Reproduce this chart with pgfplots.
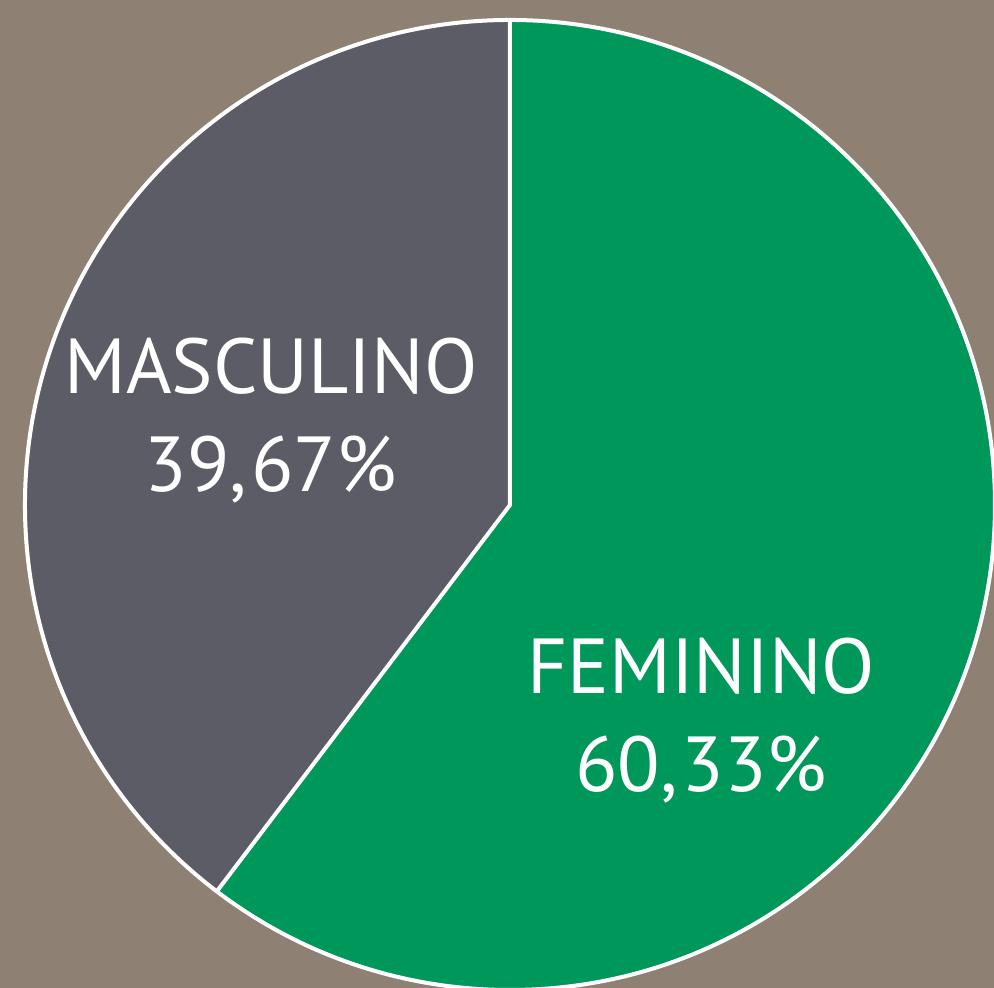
\documentclass[border=0pt]{standalone}
\usepackage{pgfplots}
\pgfplotsset{compat=1.18}
\usepackage{fontspec}
\setmainfont{PT Sans}
\definecolor{bgc}{HTML}{8E8174}
\definecolor{grayc}{HTML}{5C5C66}
\definecolor{greenc}{HTML}{00985A}
% values (percent)
\def\valM{39.67}
\def\valF{60.33}
\pgfmathsetmacro{\angM}{90+3.6*\valM}
\pgfmathsetmacro{\angF}{90-3.6*\valF}
\pgfmathsetmacro{\cx}{cos(\angM)}
\pgfmathsetmacro{\cy}{sin(\angM)}
\begin{document}
\begin{tikzpicture}
\begin{axis}[
  scale only axis, width=497pt, height=494pt,
  xmin=-1.0515, xmax=0.998, ymin=-0.9959, ymax=1.0412,
  axis lines=none, clip=true,
  axis background/.style={fill=bgc},
]
\fill[grayc] (axis cs:0,0) -- (axis cs:0,1) arc[start angle=90, end angle=\angM, radius=242.5pt] -- cycle;
\fill[greenc] (axis cs:0,0) -- (axis cs:0,1) arc[start angle=90, end angle=\angF, radius=242.5pt] -- cycle;
\draw[white, line width=2pt] (axis cs:0,1) -- (axis cs:0,0) -- (axis cs:\cx,\cy);
\draw[white, line width=2pt] (axis cs:0,0) circle[radius=242.5pt];
\node[white, align=center, font=\fontsize{39}{49}\selectfont] at (axis cs:-0.493,0.175) {MASCULINO\\39,\kern2pt67\%};
\node[white, align=center, font=\fontsize{39}{49}\selectfont] at (axis cs:0.394,-0.445) {FEMININO\\60,\kern2pt33\%};
\end{axis}
\end{tikzpicture}
\end{document}
